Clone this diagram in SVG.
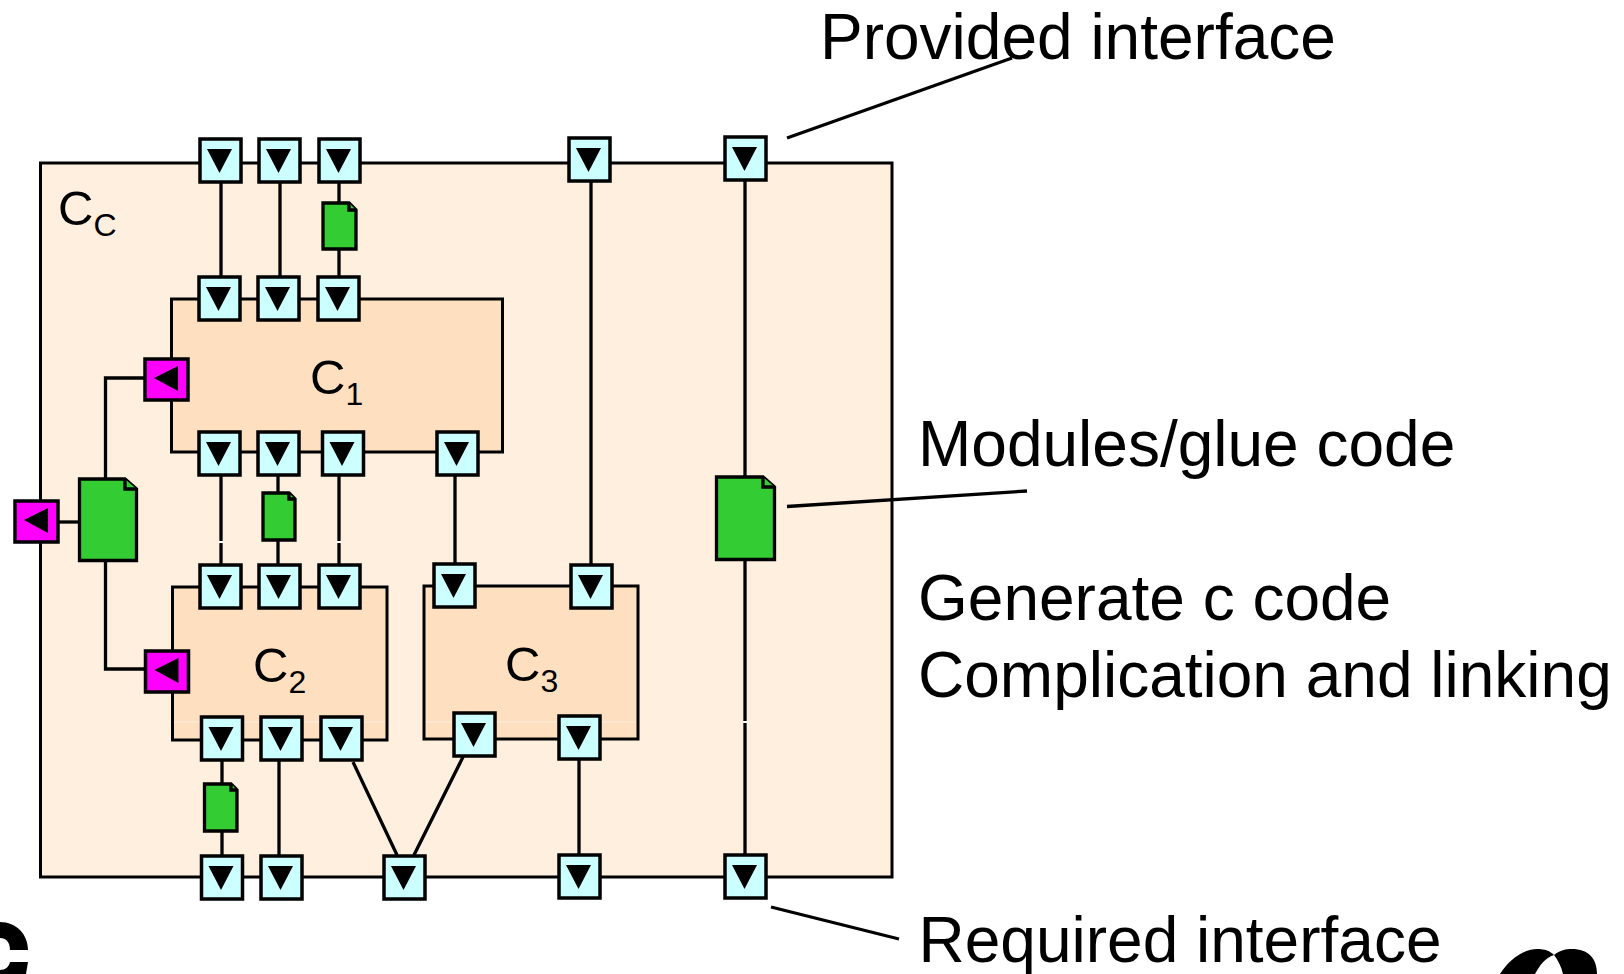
<svg xmlns="http://www.w3.org/2000/svg" xmlns:xlink="http://www.w3.org/1999/xlink" width="1624" height="974" viewBox="0 0 1624 974">
<style>
text{font-family:"Liberation Sans",Arial,sans-serif;fill:#000}
.lbl{font-size:64px}
.name{font-size:49px}
.sub{font-size:32px}
.box{stroke:#000;stroke-width:3}
.outer{fill:#FFEFDF}
.inner{fill:#FEDFBF}
.c line,.c path{stroke:#000;stroke-width:3.300;fill:none}
.artefact{stroke:#FFEFDF;stroke-width:1;fill:none}
.tick{stroke:#fff;stroke-width:2;fill:none}
.pb{fill:#CCFFFF;stroke:#000;stroke-width:3.500}
.pm{fill:#FF00FF;stroke:#000;stroke-width:3.500}
.doc{fill:#33CC33;stroke:#000;stroke-width:3.300;stroke-linejoin:miter}
</style>
<defs>
<g id="p"><rect class="pb" x="1" y="1" width="41" height="43"/><path d="M8 11H33L20.500 35Z" fill="#000"/></g>
<g id="m"><rect class="pm" x="1" y="1" width="43" height="41"/><path d="M10 20L34 8V33Z" fill="#000"/></g>
</defs>

<g id="Cc"><rect class="box outer" x="40.500" y="163" width="851.500" height="714"/>
<text class="name" x="58" y="225">C<tspan class="sub" dy="11">C</tspan></text></g>
<g id="C1"><rect class="box inner" x="171.500" y="299" width="331" height="153"/>
<text class="name" x="310" y="394">C<tspan class="sub" dy="11">1</tspan></text></g>
<g id="C2"><rect class="box inner" x="172.500" y="587" width="214.500" height="153"/>
<text class="name" x="253" y="682">C<tspan class="sub" dy="11">2</tspan></text>
<line class="artefact" x1="174" y1="722" x2="385" y2="722"/></g>
<g id="C3"><rect class="box inner" x="424" y="586" width="214" height="153"/>
<text class="name" x="505" y="681">C<tspan class="sub" dy="11">3</tspan></text>
<line class="artefact" x1="426" y1="722" x2="636" y2="722"/></g>

<g id="connectors" class="c">
<line x1="221" y1="183" x2="221" y2="276"/>
<line x1="280" y1="183" x2="280" y2="276"/>
<line x1="339" y1="183" x2="339" y2="276"/>
<line x1="591" y1="181" x2="591" y2="564"/>
<line x1="745" y1="181" x2="745" y2="855"/>
<line x1="221" y1="475" x2="221" y2="564"/>
<line x1="278" y1="475" x2="278" y2="564"/>
<line x1="339" y1="475" x2="339" y2="564"/>
<line x1="455" y1="475" x2="455" y2="563"/>
<path d="M144 378H105.500V669H145"/>
<line x1="59" y1="522" x2="79" y2="522"/>
<line x1="222" y1="761" x2="222" y2="855"/>
<line x1="279" y1="761" x2="279" y2="855"/>
<line x1="579" y1="760" x2="579" y2="855"/>
<line x1="353" y1="762" x2="397" y2="855"/>
<line x1="463" y1="757" x2="414" y2="855"/>
<line x1="787" y1="138" x2="1012" y2="58"/>
<line x1="787" y1="506.500" x2="1027" y2="491"/>
<line x1="771" y1="907" x2="899" y2="939"/>
</g>
<g id="ticks" class="tick"><line class="tick" x1="219" y1="542" x2="223" y2="542"/><line class="tick" x1="337" y1="542" x2="341" y2="542"/><line class="tick" x1="743" y1="722" x2="747" y2="722"/></g>

<g id="ports">
<use xlink:href="#p" href="#p" x="199" y="138"/>
<use xlink:href="#p" href="#p" x="258" y="138"/>
<use xlink:href="#p" href="#p" x="318" y="138"/>
<use xlink:href="#p" href="#p" x="568" y="137"/>
<use xlink:href="#p" href="#p" x="724" y="136"/>
<use xlink:href="#p" href="#p" x="198" y="276"/>
<use xlink:href="#p" href="#p" x="257" y="276"/>
<use xlink:href="#p" href="#p" x="317" y="276"/>
<use xlink:href="#p" href="#p" x="198" y="431"/>
<use xlink:href="#p" href="#p" x="257" y="431"/>
<use xlink:href="#p" href="#p" x="321.500" y="431"/>
<use xlink:href="#p" href="#p" x="436" y="431"/>
<use xlink:href="#p" href="#p" x="199" y="564"/>
<use xlink:href="#p" href="#p" x="258" y="564"/>
<use xlink:href="#p" href="#p" x="318" y="564"/>
<use xlink:href="#p" href="#p" x="433" y="563"/>
<use xlink:href="#p" href="#p" x="570" y="564"/>
<use xlink:href="#p" href="#p" x="200.500" y="716"/>
<use xlink:href="#p" href="#p" x="260" y="716"/>
<use xlink:href="#p" href="#p" x="320" y="716"/>
<use xlink:href="#p" href="#p" x="453" y="712"/>
<use xlink:href="#p" href="#p" x="558" y="715"/>
<use xlink:href="#p" href="#p" x="200.500" y="855"/>
<use xlink:href="#p" href="#p" x="260" y="855"/>
<use xlink:href="#p" href="#p" x="383" y="855"/>
<use xlink:href="#p" href="#p" x="558" y="854"/>
<use xlink:href="#p" href="#p" x="724" y="854"/>
<use xlink:href="#m" href="#m" x="144" y="358"/>
<use xlink:href="#m" href="#m" x="144.500" y="650"/>
<use xlink:href="#m" href="#m" x="14" y="500"/>
</g>

<g id="docs">
<g id="doc1"><path class="doc" d="M323 203H349L356 210V249H323Z"/><path class="doc" d="M349 203V210H356"/></g>
<g id="doc2"><path class="doc" d="M263 493H289L295 499V540H263Z"/><path class="doc" d="M289 493V499H295"/></g>
<g id="doc3"><path class="doc" d="M204.500 784H231L237 790V831H204.500Z"/><path class="doc" d="M231 784V790H237"/></g>
<g id="doc4"><path class="doc" d="M79.500 479H125L136.500 489V560.500H79.500Z"/><path class="doc" d="M125 479V489H136.500"/></g>
<g id="doc5"><path class="doc" d="M716.500 477H763L774.500 487V559.500H716.500Z"/><path class="doc" d="M763 477V487H774.500"/></g>
</g>

<g id="labels">
<text class="lbl" x="820" y="59">Provided interface</text>
<text class="lbl" x="918" y="466">Modules/glue code</text>
<text class="lbl" x="918" y="620">Generate c code</text>
<text class="lbl" x="918" y="697">Complication and linking</text>
<text class="lbl" x="918.500" y="962">Required interface</text>
</g>
<g id="cropped-marks" fill="#000">
<path d="M0 922C16 922 28 934 28 950H10C10 942 6 938 0 938Z"/>
<path d="M10 962H28L26 974H0V970C5 970 9 967 10 962Z"/>
<path d="M1500 974C1510 958 1525 949 1537 949C1545 949 1550 951 1554 955C1545 958 1540 965 1535 974Z"/>
<path d="M1554 955C1560 950 1566 949 1572 949C1588 949 1597 958 1597 974H1563C1561 966 1558 960 1554 955Z"/>
</g>
</svg>
